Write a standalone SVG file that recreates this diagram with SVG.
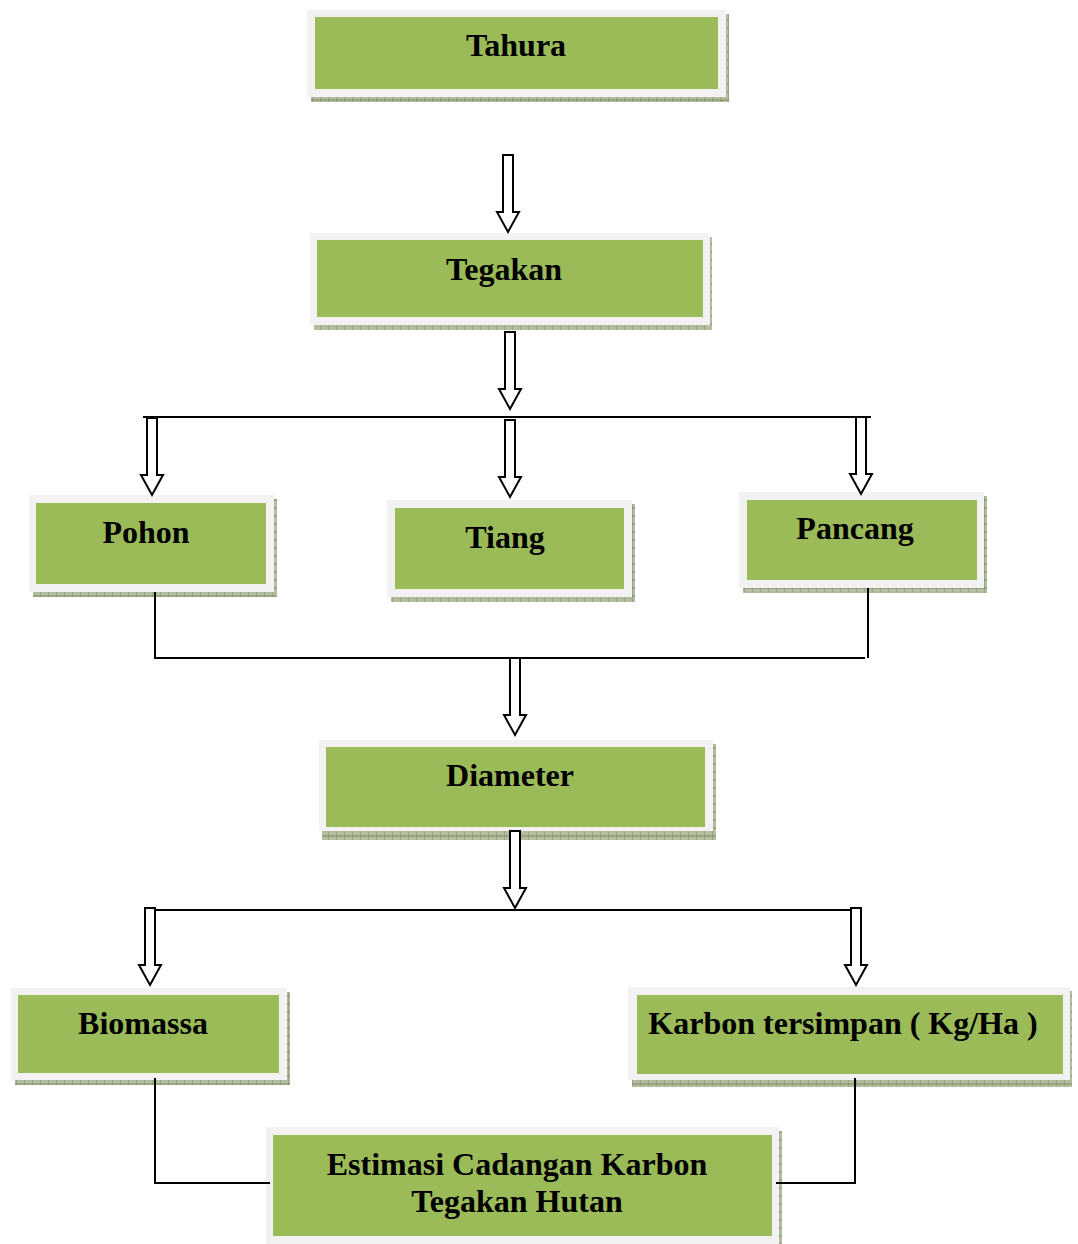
<svg xmlns="http://www.w3.org/2000/svg" width="1078" height="1244" viewBox="0 0 1078 1244">
<style>
.outer{fill:#f2f2f2}
.inner{fill:#9bbb59}
.shadow{fill:url(#hatch)}
.lbl{font-family:"Liberation Serif","Times New Roman",serif;font-weight:bold;font-size:32px;fill:#000;text-anchor:middle}
.conn{stroke:#000;stroke-width:2;fill:none}
.arr{fill:#fff;stroke:#000;stroke-width:2;stroke-linejoin:miter}
</style>
<defs>
<pattern id="hatch" width="8" height="8" patternUnits="userSpaceOnUse">
<rect width="8" height="8" fill="#b3bc9e"/>
<path d="M0,0 V8 M0,4 H8" stroke="#7f8c66" stroke-width="1"/>
</pattern>
<path id="arrow" class="arr" d="M-5,0 H5 V57 H11 L0,77 L-11,57 H-5 Z"/>
</defs>
<rect width="1078" height="1244" fill="#fff"/>

<g id="tahura">
<rect class="shadow" x="311" y="14" width="418" height="88"/>
<rect class="outer" x="307" y="10" width="419" height="87"/>
<rect class="inner" x="315" y="17" width="403" height="72"/>
<text class="lbl" x="516" y="56">Tahura</text>
</g>

<g id="tegakan">
<rect class="shadow" x="314" y="237" width="398" height="93"/>
<rect class="outer" x="310" y="233" width="400" height="92"/>
<rect class="inner" x="317" y="240" width="386" height="77"/>
<text class="lbl" x="504" y="280">Tegakan</text>
</g>

<g id="pohon">
<rect class="shadow" x="33" y="499" width="244" height="98"/>
<rect class="outer" x="29" y="495" width="245" height="97"/>
<rect class="inner" x="36" y="503" width="230" height="81"/>
<text class="lbl" x="146" y="543">Pohon</text>
</g>

<g id="tiang">
<rect class="shadow" x="391" y="504" width="244" height="98"/>
<rect class="outer" x="387" y="500" width="245" height="97"/>
<rect class="inner" x="395" y="508" width="229" height="81"/>
<text class="lbl" x="505" y="548">Tiang</text>
</g>

<g id="pancang">
<rect class="shadow" x="743" y="496" width="244" height="97"/>
<rect class="outer" x="739" y="492" width="245" height="96"/>
<rect class="inner" x="747" y="500" width="230" height="80"/>
<text class="lbl" x="855" y="539">Pancang</text>
</g>

<g id="diameter">
<rect class="shadow" x="322" y="744" width="394" height="96"/>
<rect class="outer" x="319" y="740" width="394" height="91"/>
<rect class="inner" x="326" y="747" width="379" height="80"/>
<text class="lbl" x="510" y="786">Diameter</text>
</g>

<g id="biomassa">
<rect class="shadow" x="15" y="992" width="275" height="93"/>
<rect class="outer" x="11" y="988" width="276" height="92"/>
<rect class="inner" x="18" y="995" width="261" height="78"/>
<text class="lbl" x="143" y="1034">Biomassa</text>
</g>

<g id="karbon">
<rect class="shadow" x="632" y="991" width="440" height="96"/>
<rect class="outer" x="628" y="987" width="442" height="93"/>
<rect class="inner" x="637" y="995" width="426" height="79"/>
<text class="lbl" x="843" y="1034">Karbon tersimpan ( Kg/Ha )</text>
</g>

<g id="estimasi">
<rect class="shadow" x="270" y="1131" width="512" height="113"/>
<rect class="outer" x="266" y="1127" width="513" height="117"/>
<rect class="inner" x="273" y="1135" width="499" height="101"/>
<text class="lbl" x="517" y="1175">Estimasi Cadangan Karbon</text>
<text class="lbl" x="517" y="1212">Tegakan Hutan</text>
</g>

<g id="connectors">
<line class="conn" x1="143" y1="417" x2="871" y2="417"/>
<polyline class="conn" points="155,592 155,658 865,658"/>
<line class="conn" x1="868" y1="588" x2="868" y2="658"/>
<line class="conn" x1="150" y1="910" x2="862" y2="910"/>
<polyline class="conn" points="155,1078 155,1183 270,1183"/>
<polyline class="conn" points="855,1078 855,1183 776,1183"/>
<use href="#arrow" x="508" y="155"/>
<use href="#arrow" x="510" y="332"/>
<use href="#arrow" x="152" y="418"/>
<use href="#arrow" x="510" y="420"/>
<use href="#arrow" x="861" y="417"/>
<use href="#arrow" x="515" y="658"/>
<use href="#arrow" x="515" y="831"/>
<use href="#arrow" x="150" y="908"/>
<use href="#arrow" x="856" y="908"/>
</g>
</svg>
